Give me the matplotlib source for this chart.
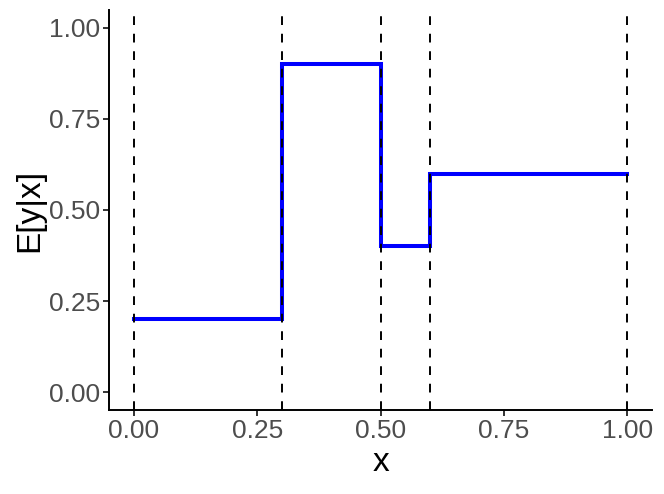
"""Step function E[y|x] with dashed breakpoints, ggplot classic look."""
import matplotlib

matplotlib.use("Agg")
import matplotlib.pyplot as plt

BREAKS = [0.0, 0.3, 0.5, 0.6, 1.0]
LEVELS = [0.2, 0.9, 0.4, 0.6, 0.6]
X_TICKS = [0.0, 0.25, 0.5, 0.75, 1.0]
Y_TICKS = [0.0, 0.25, 0.5, 0.75, 1.0]

plt.rcParams["font.family"] = ["Liberation Sans", "DejaVu Sans"]

fig = plt.figure(figsize=(6.64, 4.94), dpi=100)
ax = fig.add_axes([0.1646, 0.1696, 0.9820 - 0.1646, 0.9802 - 0.1696])

ax.step(BREAKS, LEVELS, where="post", color="#0000FF", linewidth=2.9,
        solid_joinstyle="miter", zorder=2)
for b in BREAKS:
    ax.axvline(b, color="black", linewidth=1.4, dashes=(4.5, 4.5), zorder=3)

ax.set_xlim(-0.05, 1.05)
ax.set_ylim(-0.05, 1.05)
ax.set_xticks(X_TICKS, [f"{v:.2f}" for v in X_TICKS])
ax.set_yticks(Y_TICKS, [f"{v:.2f}" for v in Y_TICKS])
ax.tick_params(labelsize=19, labelcolor="#4D4D4D", color="#333333",
               length=4, width=1.4, pad=2.5)

for side in ("top", "right"):
    ax.spines[side].set_visible(False)
for side in ("left", "bottom"):
    ax.spines[side].set_linewidth(1.4)
    ax.spines[side].set_color("black")

ax.set_xlabel("x", fontsize=24, labelpad=3)
ax.set_ylabel("E[y|x]", fontsize=24, labelpad=3)

fig.savefig("out.png", dpi=100)
